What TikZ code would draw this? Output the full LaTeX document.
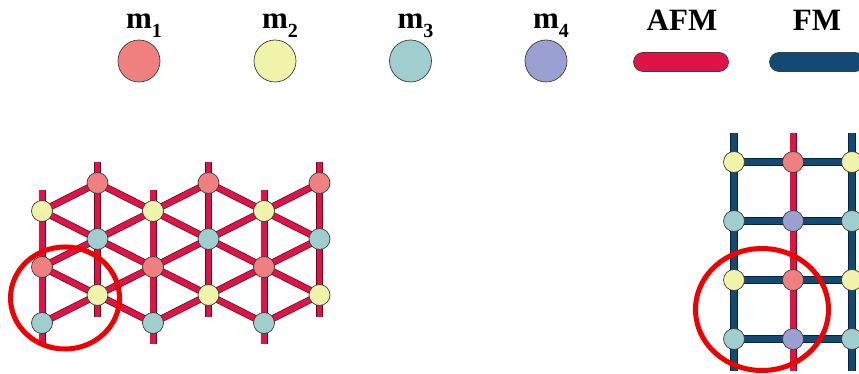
\documentclass[tikz,border=0pt]{standalone}
\usepackage{fontspec}
\setmainfont{Liberation Serif}
\usetikzlibrary{backgrounds}
\definecolor{mone}{RGB}{240,128,128}
\definecolor{mtwo}{RGB}{240,244,170}
\definecolor{mthree}{RGB}{160,205,205}
\definecolor{mfour}{RGB}{155,160,210}
\definecolor{afmred}{RGB}{222,20,70}
\definecolor{afmdark}{RGB}{90,10,30}
\definecolor{fmblue}{RGB}{18,74,115}
\definecolor{fmdark}{RGB}{10,35,55}
\definecolor{sitedark}{RGB}{60,60,60}
\definecolor{ringred}{RGB}{240,0,0}
\newcommand{\mlab}[1]{m\raisebox{-9pt}{\fontsize{20}{20}\selectfont #1}}

\begin{document}
\begin{tikzpicture}[x=1pt, y=-1pt]
	\tikzstyle{every node} = [inner sep=0pt]
	\tikzstyle{site} = [circle, draw=sitedark, line width=0.7pt, minimum size=21pt]
	\tikzstyle{key} = [circle, draw=sitedark, line width=0.7pt, minimum size=42pt]
	\tikzstyle{pill} = [rectangle, draw=sitedark, line width=0.7pt, rounded corners=9.5pt, minimum width=95pt, minimum height=19pt]
	\tikzstyle{head} = [anchor=base, font=\bfseries\fontsize{31}{33}\selectfont]
	\tikzstyle{afmbond} = [draw=afmdark, line width=0.7pt, double=afmred, double distance=5.6pt, line join=round]
	\tikzstyle{fmbond} = [draw=fmdark, line width=0.7pt, double=fmblue, double distance=6pt, line join=round]
	\tikzstyle{ring} = [draw=ringred, line width=5pt]
	\clip (0,0) rectangle (859,374);
	% legend
	\node[key, fill=mone]   (m1)  at (139,61) {};
	\node[key, fill=mtwo]   (m2)  at (275,61) {};
	\node[key, fill=mthree] (m3)  at (410.5,61) {};
	\node[key, fill=mfour]  (m4)  at (546,61) {};
	\node[pill, fill=afmred] (afm) at (681,62) {};
	\node[pill, fill=fmblue] (fm)  at (817,62) {};
	\node[head] (m1lab)  at (144,29) {\mlab{1}};
	\node[head] (m2lab)  at (280,29) {\mlab{2}};
	\node[head] (m3lab)  at (415.5,29) {\mlab{3}};
	\node[head] (m4lab)  at (551,29) {\mlab{4}};
	\node[head] (afmlab) at (682,31) {AFM};
	\node[head] (fmlab)  at (817,31) {FM};
	% triangular lattice
	\node[site, fill=mtwo]   (t01) at (42,211) {};
	\node[site, fill=mone]   (t03) at (42,267) {};
	\node[site, fill=mthree] (t05) at (42,323) {};
	\node[site, fill=mone]   (t10) at (97.5,183) {};
	\node[site, fill=mthree] (t12) at (97.5,239) {};
	\node[site, fill=mtwo]   (t14) at (97.5,295) {};
	\node[site, fill=mtwo]   (t21) at (153,211) {};
	\node[site, fill=mone]   (t23) at (153,267) {};
	\node[site, fill=mthree] (t25) at (153,323) {};
	\node[site, fill=mone]   (t30) at (208.5,183) {};
	\node[site, fill=mthree] (t32) at (208.5,239) {};
	\node[site, fill=mtwo]   (t34) at (208.5,295) {};
	\node[site, fill=mtwo]   (t41) at (264,211) {};
	\node[site, fill=mone]   (t43) at (264,267) {};
	\node[site, fill=mthree] (t45) at (264,323) {};
	\node[site, fill=mone]   (t50) at (319.5,183) {};
	\node[site, fill=mthree] (t52) at (319.5,239) {};
	\node[site, fill=mtwo]   (t54) at (319.5,295) {};
	\coordinate (t0top) at (42,190);    \coordinate (t0bot) at (42,344);
	\coordinate (t1top) at (97.5,162);  \coordinate (t1bot) at (97.5,317);
	\coordinate (t2top) at (153,190);   \coordinate (t2bot) at (153,344);
	\coordinate (t3top) at (208.5,162); \coordinate (t3bot) at (208.5,317);
	\coordinate (t4top) at (264,190);   \coordinate (t4bot) at (264,344);
	\coordinate (t5top) at (319.5,162); \coordinate (t5bot) at (319.5,317);
	\begin{scope}[on background layer]
	\draw[afmbond] (t0top) -- (t01.center) -- (t03.center) -- (t05.center) -- (t0bot);
	\draw[afmbond] (t1top) -- (t10.center) -- (t12.center) -- (t14.center) -- (t1bot);
	\draw[afmbond] (t2top) -- (t21.center) -- (t23.center) -- (t25.center) -- (t2bot);
	\draw[afmbond] (t3top) -- (t30.center) -- (t32.center) -- (t34.center) -- (t3bot);
	\draw[afmbond] (t4top) -- (t41.center) -- (t43.center) -- (t45.center) -- (t4bot);
	\draw[afmbond] (t5top) -- (t50.center) -- (t52.center) -- (t54.center) -- (t5bot);
	\draw[afmbond] (t10.center) -- (t01.center) -- (t12.center) -- (t03.center) -- (t14.center) -- (t05.center);
	\draw[afmbond] (t10.center) -- (t21.center) -- (t12.center) -- (t23.center) -- (t14.center) -- (t25.center);
	\draw[afmbond] (t30.center) -- (t21.center) -- (t32.center) -- (t23.center) -- (t34.center) -- (t25.center);
	\draw[afmbond] (t30.center) -- (t41.center) -- (t32.center) -- (t43.center) -- (t34.center) -- (t45.center);
	\draw[afmbond] (t50.center) -- (t41.center) -- (t52.center) -- (t43.center) -- (t54.center) -- (t45.center);
	\end{scope}
	% square lattice
	\node[site, fill=mtwo]   (s00) at (734,162) {};
	\node[site, fill=mthree] (s01) at (734,221) {};
	\node[site, fill=mtwo]   (s02) at (734,280) {};
	\node[site, fill=mthree] (s03) at (734,339) {};
	\node[site, fill=mone]   (s10) at (793,162) {};
	\node[site, fill=mfour]  (s11) at (793,221) {};
	\node[site, fill=mone]   (s12) at (793,280) {};
	\node[site, fill=mfour]  (s13) at (793,339) {};
	\node[site, fill=mtwo]   (s20) at (852,162) {};
	\node[site, fill=mthree] (s21) at (852,221) {};
	\node[site, fill=mtwo]   (s22) at (852,280) {};
	\node[site, fill=mthree] (s23) at (852,339) {};
	\coordinate (s0top) at (734,133); \coordinate (s0bot) at (734,371);
	\coordinate (s1top) at (793,133); \coordinate (s1bot) at (793,371);
	\coordinate (s2top) at (852,133); \coordinate (s2bot) at (852,371);
	\coordinate (s0end) at (880,162); \coordinate (s1end) at (880,221);
	\coordinate (s2end) at (880,280); \coordinate (s3end) at (880,339);
	\begin{scope}[on background layer]
	\draw[fmbond]  (s0top) -- (s00.center) -- (s01.center) -- (s02.center) -- (s03.center) -- (s0bot);
	\draw[fmbond]  (s2top) -- (s20.center) -- (s21.center) -- (s22.center) -- (s23.center) -- (s2bot);
	\draw[fmbond]  (s00.center) -- (s10.center) -- (s20.center) -- (s0end);
	\draw[fmbond]  (s01.center) -- (s11.center) -- (s21.center) -- (s1end);
	\draw[fmbond]  (s02.center) -- (s12.center) -- (s22.center) -- (s2end);
	\draw[fmbond]  (s03.center) -- (s13.center) -- (s23.center) -- (s3end);
	\draw[afmbond] (s1top) -- (s10.center) -- (s11.center) -- (s12.center) -- (s13.center) -- (s1bot);
	\end{scope}
	% marked cells
	\draw[ring] (65,298) ellipse [x radius=54.5pt, y radius=51pt];
	\draw[ring] (762,309.5) ellipse [x radius=66.5pt, y radius=61pt];
\end{tikzpicture}
\end{document}
